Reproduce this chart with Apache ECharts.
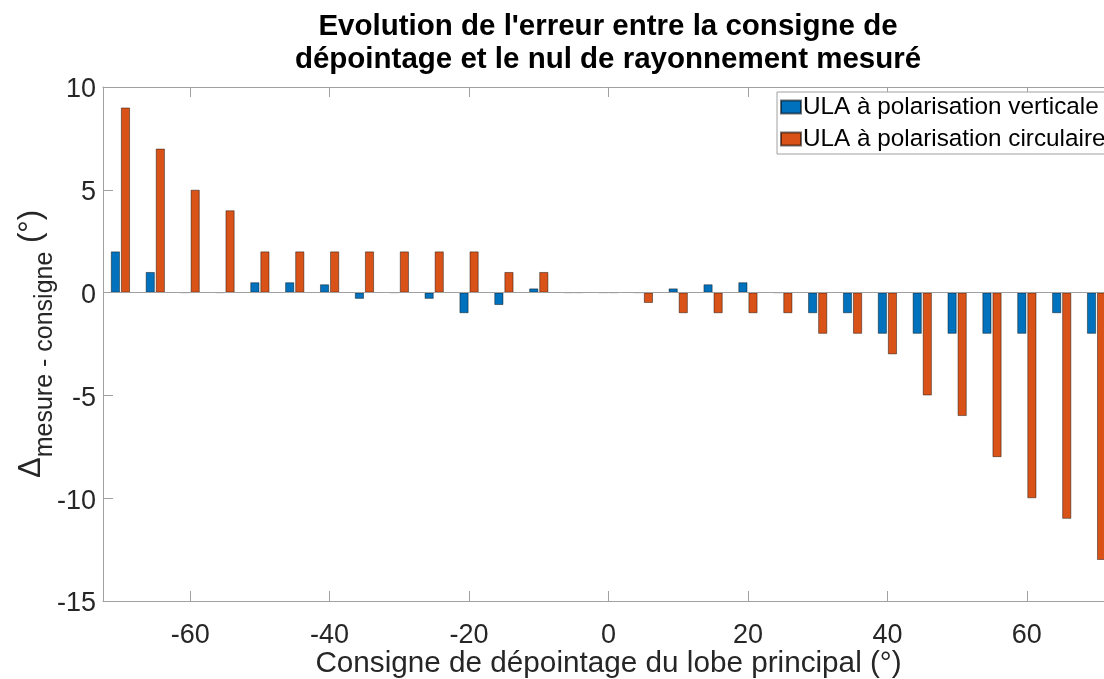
<!DOCTYPE html>
<html>
<head>
<meta charset="utf-8">
<script src="https://cdn.jsdelivr.net/npm/echarts@6/dist/echarts.min.js"></script>
<style>
  html, body { margin: 0; padding: 0; background: #fff; }
  #chart { width: 1104px; height: 679px; }
</style>
</head>
<body>
<div id="chart"></div>
<script>
// Steering command (degrees)
const angles = [-70, -65, -60, -55, -50, -45, -40, -35, -30, -25, -20, -15, -10, -5, 0,
                5, 10, 15, 20, 25, 30, 35, 40, 45, 50, 55, 60, 65, 70];
// Measured null minus command, vertically polarised ULA
const errVertical = [2, 1, 0, 0, 0.5, 0.5, 0.4, -0.3, 0, -0.3, -1, -0.6, 0.2, 0, 0,
                     0, 0.2, 0.4, 0.5, 0, -1, -1, -2, -2, -2, -2, -2, -1, -2];
// Measured null minus command, circularly polarised ULA
const errCircular = [9, 7, 5, 4, 2, 2, 2, 2, 2, 2, 2, 1, 1, 0, 0,
                     -0.5, -1, -1, -1, -1, -2, -2, -3, -5, -6, -8, -10, -11, -13];
const xTicks = [-60, -40, -20, 0, 20, 40, 60];
const seriesNames = ['ULA à polarisation verticale', 'ULA à polarisation circulaire'];

const FONT = '"Liberation Sans", Arial, Helvetica, sans-serif';
const AXIS_GREY = '#a0a0a0';
const TEXT = '#262626';

const chart = echarts.init(document.getElementById('chart'), null, { renderer: 'canvas' });

const pairs = (ys) => angles.map((a, i) => [a, ys[i]]);

const barEdge = { borderColor: 'rgba(0,0,0,0.55)', borderWidth: 0.8 };

chart.setOption({
  animation: false,
  backgroundColor: '#ffffff',
  title: {
    text: "Evolution de l'erreur entre la consigne de\ndépointage et le nul de rayonnement mesuré",
    left: 608,
    top: 10,
    padding: 0,
    textAlign: 'center',
    textStyle: { fontFamily: FONT, fontSize: 29.5, fontWeight: 'bold', color: '#000', lineHeight: 33 }
  },
  legend: {
    orient: 'vertical',
    left: 777,
    top: 92,
    padding: [3, 6, 3, 3],
    itemWidth: 20,
    itemHeight: 13,
    itemGap: 8,
    icon: 'rect',
    borderColor: AXIS_GREY,
    borderWidth: 1,
    backgroundColor: '#fff',
    textStyle: { fontFamily: FONT, fontSize: 24.3, color: '#000', padding: [0, 0, 0, -3] },
    data: seriesNames
  },
  grid: { left: 103, top: 87, width: 1011, height: 514, containLabel: false, outerBoundsMode: 'none' },
  xAxis: [{
    type: 'value',
    min: -72.5,
    max: 72.5,
    position: 'bottom',
    name: 'Consigne de dépointage du lobe principal (°)',
    nameLocation: 'middle',
    nameGap: 48,
    nameMoveOverlap: false,
    nameTextStyle: { fontFamily: FONT, fontSize: 29.7, color: TEXT },
    axisLine: { onZero: false, lineStyle: { color: AXIS_GREY, width: 1 } },
    axisTick: { inside: true, length: 10, customValues: xTicks, lineStyle: { color: AXIS_GREY } },
    axisLabel: { customValues: xTicks, margin: 21, fontFamily: FONT, fontSize: 27, color: TEXT },
    splitLine: { show: false }
  }, {
    type: 'value',
    min: -72.5,
    max: 72.5,
    position: 'top',
    axisLine: { onZero: false, lineStyle: { color: AXIS_GREY, width: 1 } },
    axisTick: { inside: true, length: 10, customValues: xTicks, lineStyle: { color: AXIS_GREY } },
    axisLabel: { show: false },
    splitLine: { show: false }
  }],
  yAxis: [{
    type: 'value',
    min: -15,
    max: 10,
    interval: 5,
    position: 'left',
    name: '{d|Δ}{s|mesure - consigne}{d| (°)}',
    nameLocation: 'middle',
    nameRotate: 90,
    nameGap: 45,
    nameMoveOverlap: false,
    nameTextStyle: {
      fontFamily: FONT, color: TEXT,
      rich: {
        d: { fontFamily: FONT, fontSize: 31, color: TEXT, lineHeight: 54, verticalAlign: 'middle' },
        s: { fontFamily: FONT, fontSize: 25, color: TEXT, lineHeight: 25, verticalAlign: 'bottom' }
      }
    },
    axisLine: { show: true, onZero: false, lineStyle: { color: AXIS_GREY, width: 1 } },
    axisTick: { show: true, inside: true, length: 10, lineStyle: { color: AXIS_GREY } },
    axisLabel: {
      margin: 7,
      formatter: '{v|{value}}',
      rich: { v: { fontFamily: FONT, fontSize: 27, color: TEXT, padding: [6, 0, 0, 0] } }
    },
    splitLine: { show: false }
  }, {
    type: 'value',
    min: -15,
    max: 10,
    interval: 5,
    position: 'right',
    axisLine: { show: true, onZero: false, lineStyle: { color: AXIS_GREY, width: 1 } },
    axisTick: { show: true, inside: true, length: 10, lineStyle: { color: AXIS_GREY } },
    axisLabel: { show: false },
    splitLine: { show: false }
  }],
  series: [{
    name: seriesNames[0],
    type: 'bar',
    xAxisIndex: 0,
    yAxisIndex: 0,
    barWidth: 9,
    barGap: '12%',
    itemStyle: Object.assign({ color: '#0072BD' }, barEdge),
    data: pairs(errVertical),
    markLine: {
      silent: true,
      symbol: 'none',
      label: { show: false },
      lineStyle: { color: AXIS_GREY, type: 'solid', width: 1 },
      data: [{ yAxis: 0 }]
    }
  }, {
    name: seriesNames[1],
    type: 'bar',
    xAxisIndex: 0,
    yAxisIndex: 0,
    barWidth: 9,
    barGap: '12%',
    itemStyle: Object.assign({ color: '#D95319' }, barEdge),
    data: pairs(errCircular)
  }]
});
</script>
</body>
</html>
